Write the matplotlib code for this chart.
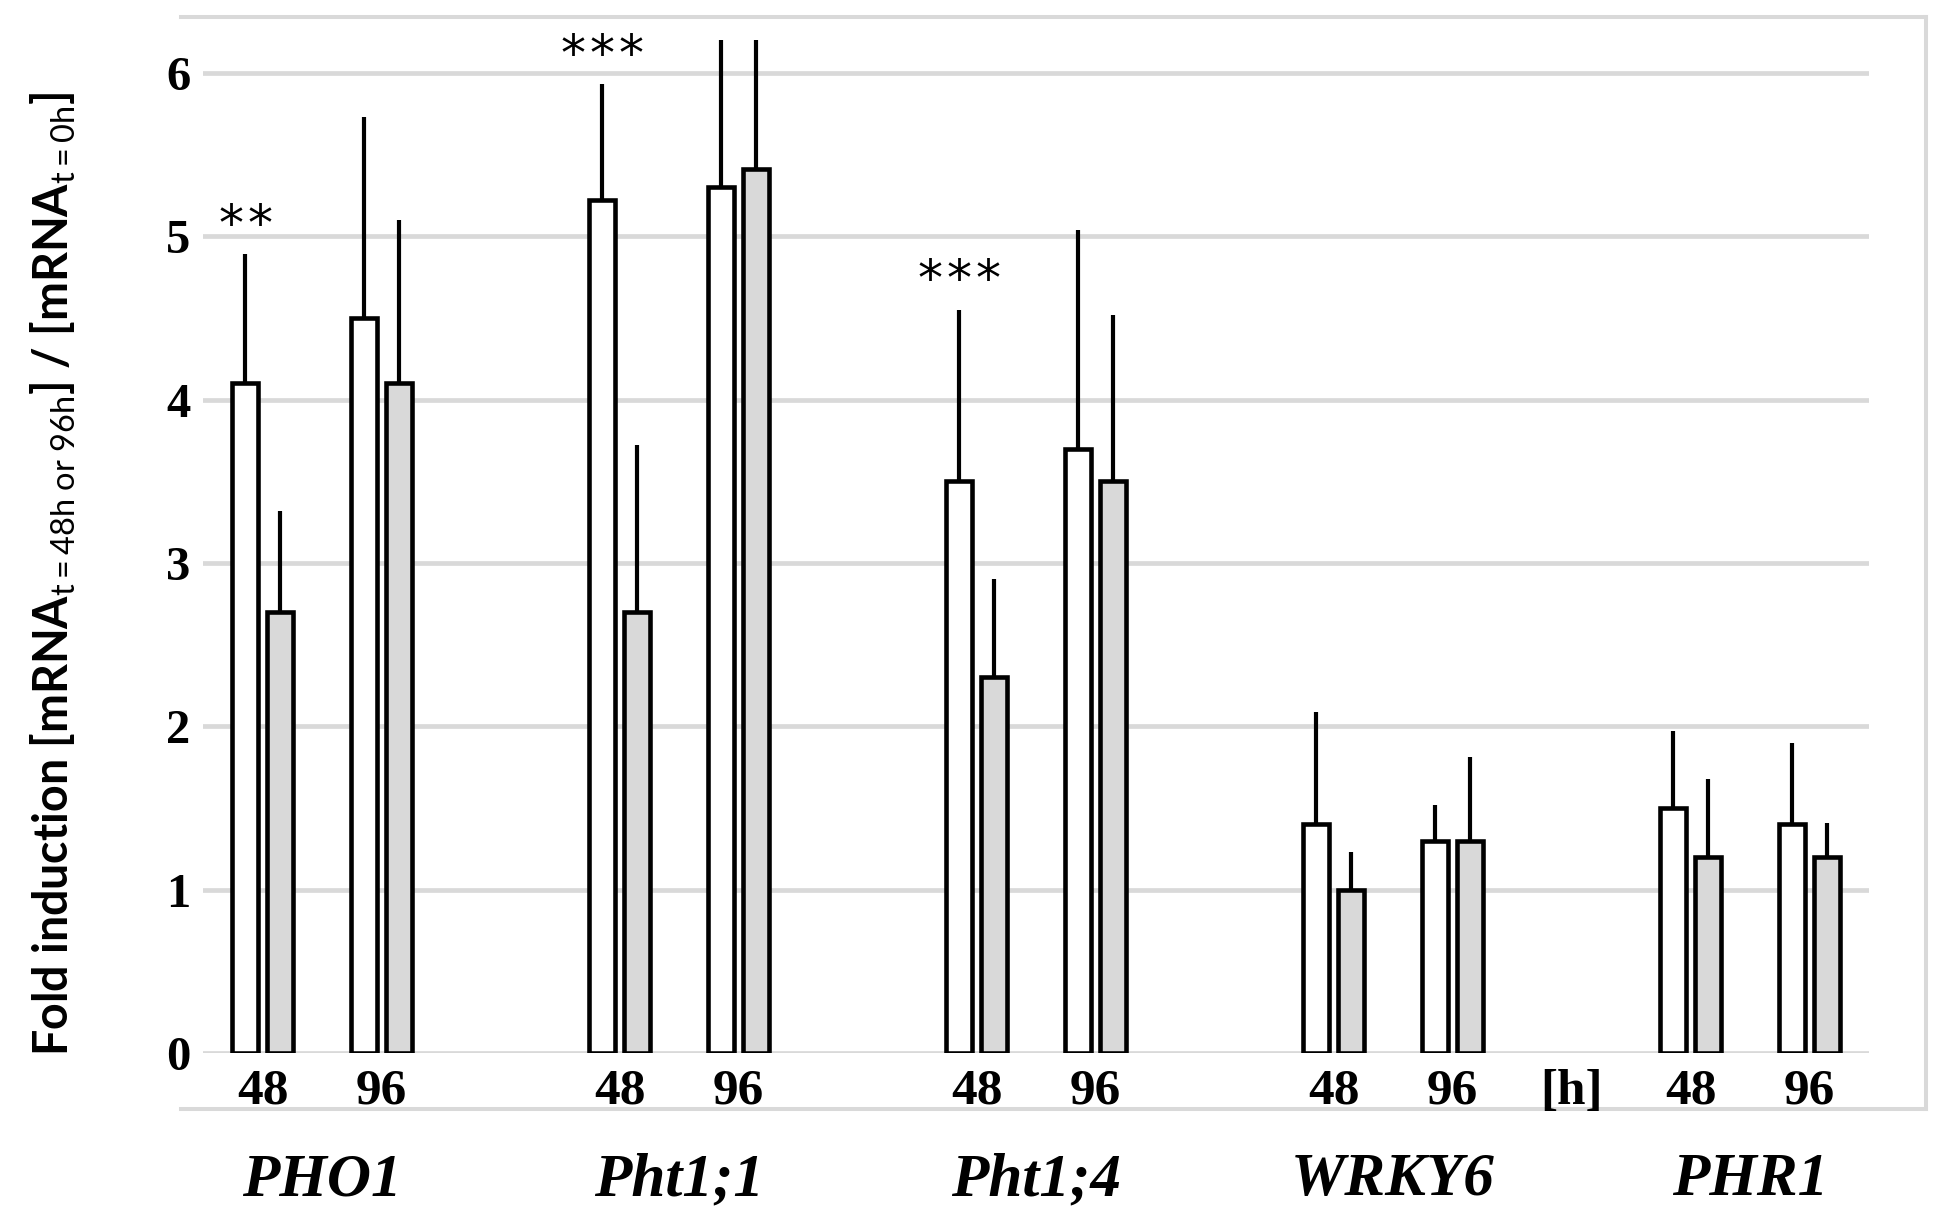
import matplotlib
matplotlib.use('Agg')
import matplotlib.pyplot as plt
import matplotlib.transforms as mtransforms
from matplotlib.lines import Line2D
import numpy as np

# --- data ---
genes = ['PHO1', 'Pht1;1', 'Pht1;4', 'WRKY6', 'PHR1']
hours = ['48', '96']
# white series / gray series, per gene [48 h, 96 h]
white_vals = [[4.1, 4.5], [5.22, 5.3], [3.5, 3.7], [1.4, 1.3], [1.5, 1.4]]
white_err = [[0.79, 1.23], [0.71, 1.0], [1.05, 1.34], [0.69, 0.22], [0.47, 0.5]]
gray_vals = [[2.7, 4.1], [2.7, 5.41], [2.3, 3.5], [1.0, 1.3], [1.2, 1.2]]
gray_err = [[0.62, 1.0], [1.02, 1.0], [0.6, 1.02], [0.23, 0.51], [0.48, 0.21]]
# significance marks on the white bars (gene index, hour index)
signif = {(0, 0): '**', (1, 0): '***', (2, 0): '***'}
unit_label = '[h]'
yticks = [0, 1, 2, 3, 4, 5, 6]

# --- positions: 48, 96, empty slot for every gene ---
pos = []
wv, we, gv, ge = [], [], [], []
tick_pos, tick_lab = [], []
for i, g in enumerate(genes):
    for j, h in enumerate(hours):
        p = 3 * i + j
        pos.append(p)
        wv.append(white_vals[i][j]); we.append(white_err[i][j])
        gv.append(gray_vals[i][j]); ge.append(gray_err[i][j])
        tick_pos.append(p); tick_lab.append(h)
# unit label sits in the empty slot before the last gene
tick_pos.append(3 * (len(genes) - 1) - 1); tick_lab.append(unit_label)
order = np.argsort(tick_pos)
tick_pos = [tick_pos[k] for k in order]
tick_lab = [tick_lab[k] for k in order]
pos = np.array(pos, dtype=float)

plt.rcParams['mathtext.fontset'] = 'custom'
plt.rcParams['mathtext.rm'] = 'Lato'
plt.rcParams['mathtext.it'] = 'Lato:italic'
plt.rcParams['mathtext.bf'] = 'Lato:bold'

fig = plt.figure(figsize=(19.49, 12.32), dpi=100)
ax = fig.add_axes([0.1042, 0.1453, 0.8548, 0.822])

bw = 0.22
off = 0.147
grid_c = '#d9d9d9'

ax.bar(pos - off, wv, width=bw, color='white', edgecolor='black', linewidth=3.3, zorder=3)
ax.bar(pos + off, gv, width=bw, color=grid_c, edgecolor='black', linewidth=3.3, zorder=3)
ax.errorbar(pos - off, wv, yerr=[np.zeros(len(we)), we], fmt='none', ecolor='black',
            elinewidth=3.0, capsize=0, zorder=4)
ax.errorbar(pos + off, gv, yerr=[np.zeros(len(ge)), ge], fmt='none', ecolor='black',
            elinewidth=3.0, capsize=0, zorder=4)

# significance stars, one glyph each so they can be spaced like the original
for (i, j), s in signif.items():
    k = 2 * i + j
    n = len(s)
    for m in range(n):
        ax.annotate('*', (pos[k] - off, wv[k] + we[k] + 0.09),
                    xytext=((m - (n - 1) / 2) * 21, 0), textcoords='offset points',
                    ha='center', va='baseline', fontsize=36, family='DejaVu Sans',
                    annotation_clip=False)

ax.set_xlim(-0.5, 13.5)
ax.set_ylim(0, 6.2)
ax.set_yticks(yticks)
ax.set_yticklabels([str(t) for t in yticks], family='Liberation Serif',
                   fontweight='bold', fontsize=35)
ax.set_xticks(tick_pos)
ax.set_xticklabels(tick_lab, family='Liberation Serif', fontweight='bold', fontsize=37)
ax.tick_params(axis='both', length=0)
ax.tick_params(axis='y', pad=9)
ax.tick_params(axis='x', pad=11.5)
ax.yaxis.grid(True, color=grid_c, linewidth=3.4, zorder=0)
ax.set_axisbelow(True)
for sp in ax.spines.values():
    sp.set_visible(False)

ax.set_ylabel(r'Fold induction [mRNA$_{\mathrm{t=48h\ or\ 96h}}$] / [mRNA$_{\mathrm{t=0h}}$]',
              family='Lato', fontweight='bold', fontsize=33.5)
ax.yaxis.set_label_coords(-0.075, 0.473)

# gene names under each pair
trans = mtransforms.blended_transform_factory(ax.transData, fig.transFigure)
for i, g in enumerate(genes):
    ax.text(3 * i + 0.5, 0.042, g, transform=trans, ha='center', va='center',
            family='Liberation Serif', fontweight='bold', style='italic', fontsize=44)

# chart area border (top, right, bottom), drawn beneath the axes content
x0, x1 = 0.0929, 0.9882
y0, y1 = 0.0998, 0.9862
for xs, ys in [([x0, x1], [y1, y1]), ([x1, x1], [y0, y1]), ([x0, x1], [y0, y0])]:
    fig.add_artist(Line2D(xs, ys, color=grid_c, linewidth=2.9,
                          transform=fig.transFigure, zorder=-1))

fig.savefig('out.png', dpi=100, facecolor='white')
